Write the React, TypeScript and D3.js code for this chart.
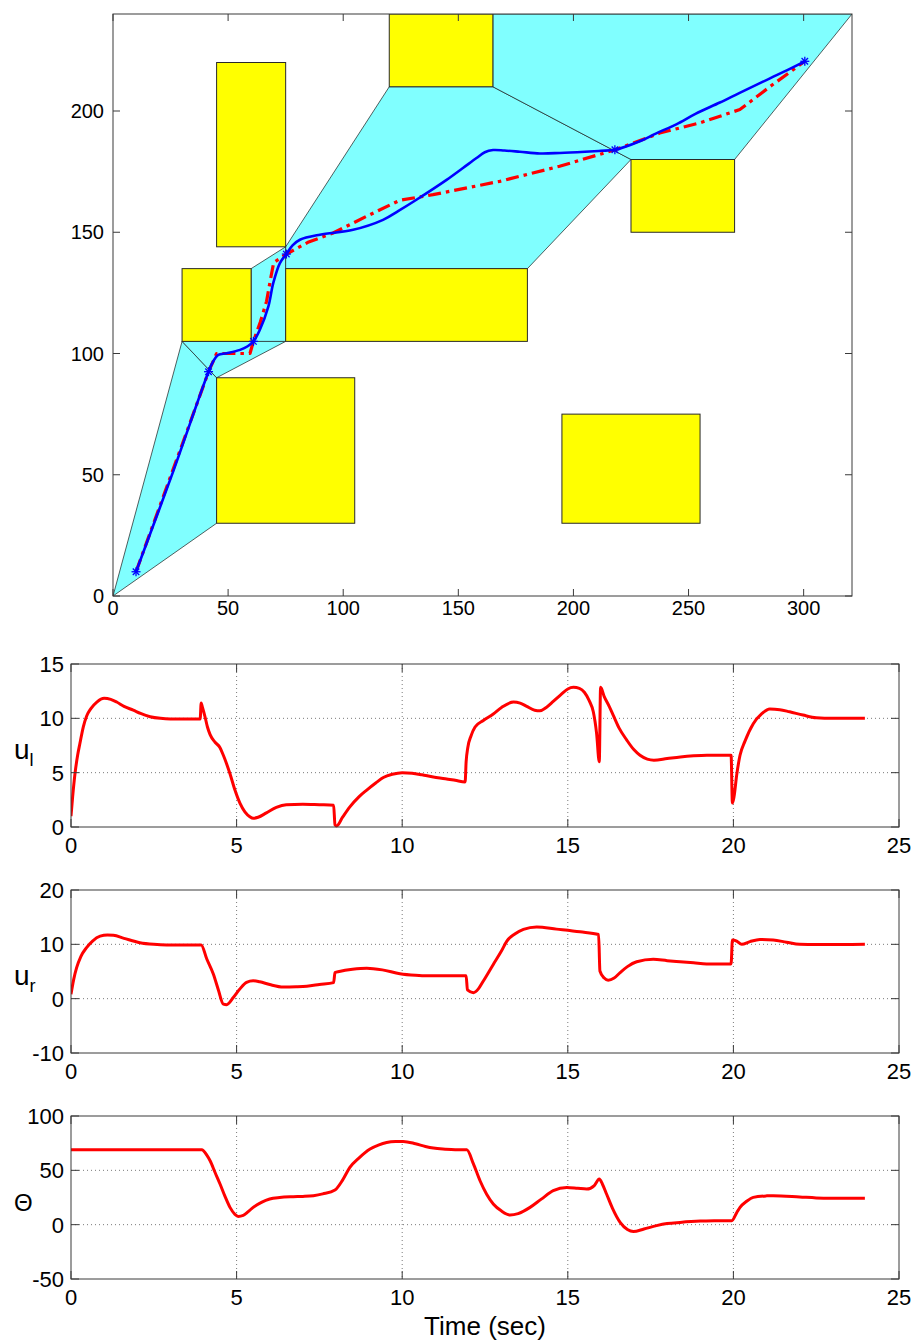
import React, { useEffect, useRef } from "react";
import * as d3 from "d3";

const W = 920;
const H = 1340;
const FONT = "'Liberation Sans', Arial, Helvetica, sans-serif";

// ---------- Workspace (x-y plane) ----------
// Obstacles as [xmin, ymin, xmax, ymax]
const obstacles: number[][] = [
  [45, 144, 75, 220],
  [120, 210, 165, 240],
  [225, 150, 270, 180],
  [30, 105, 60, 135],
  [75, 105, 180, 135],
  [45, 30, 105, 90],
  [195, 30, 255, 75],
];

// Free-space cells of the corridor (convex polygons)
const freeCells: number[][][] = [
  [[0, 0], [45, 30], [45, 90], [30, 105]],
  [[30, 105], [45, 90], [75, 105]],
  [[60, 105], [75, 105], [75, 144], [60, 135]],
  [[75, 135], [180, 135], [225, 180], [165, 210], [120, 210], [75, 144]],
  [[165, 210], [225, 180], [270, 180], [321, 240], [165, 240]],
];

const waypoints: number[][] = [
  [10, 10], [41.5, 92.5], [61, 105], [75.3, 141], [218, 184], [300.5, 220.5],
];

const actualPath: number[][] = [
  [10, 10], [26, 51], [41.5, 92.5], [43.5, 96.7], [45.7, 99.4], [49.4, 100.1],
  [55.2, 101.5], [58.5, 103], [61, 105], [63.8, 109.8], [67.5, 119.4],
  [69.6, 129], [72.5, 137.3], [75.3, 141], [78, 144.6], [81.2, 146.9],
  [89.9, 149], [104.3, 151], [117.3, 155.1], [124, 158.8], [131.8, 163.4],
  [144.9, 171.6], [152, 176.5], [157.9, 180.6], [161.5, 183], [165.1, 183.9],
  [170, 183.7], [176.7, 183.2], [185.4, 182.5], [194.1, 182.7], [205, 183.2],
  [212, 183.6], [218, 184], [228.8, 187.5], [236, 190.8], [244.7, 194.5],
  [253, 198.8], [263.6, 203.5], [272, 207.4], [281, 211.5], [291, 216],
  [300.5, 220.5],
];

const referencePath: number[][] = [
  [10, 10], [41.5, 92.5], [45, 100], [59.5, 100], [61, 105], [64, 113],
  [66.7, 121.5], [68.3, 130], [69.8, 137.5], [75.3, 141], [85, 146],
  [95.6, 149.7], [110, 156.5], [124.6, 163.2], [139, 165.5], [168, 171],
  [194, 177.2], [218, 184], [237.5, 190.9], [254.9, 195.1], [272.3, 200.6],
  [286, 210.5], [300.5, 220.5],
];

const pathXTicks = [0, 50, 100, 150, 200, 250, 300];
const pathYTicks = [0, 50, 100, 150, 200];

// ---------- Time histories ----------
const timeTicks = [0, 5, 10, 15, 20, 25];

const uLeft: number[][] = [
  [0, 1.0], [0.05, 2.8], [0.12, 4.9], [0.2, 6.6], [0.27, 7.7], [0.37, 9.2],
  [0.47, 10.2], [0.6, 10.9], [0.78, 11.5], [1.0, 11.85], [1.2, 11.75],
  [1.38, 11.5], [1.6, 11.1], [1.88, 10.75], [2.1, 10.45], [2.39, 10.15],
  [2.7, 10.0], [3.0, 9.95], [3.5, 9.95], [3.9, 9.95], [3.93, 11.4],
  [3.97, 11.0], [4.05, 10.1], [4.12, 9.2], [4.2, 8.5], [4.35, 7.8],
  [4.5, 7.3], [4.6, 6.6], [4.7, 5.8], [4.8, 4.9], [4.95, 3.4], [5.1, 2.2],
  [5.25, 1.4], [5.4, 0.95], [5.5, 0.8], [5.65, 0.9], [5.9, 1.3], [6.2, 1.8],
  [6.5, 2.05], [7.0, 2.1], [7.5, 2.05], [7.93, 2.0], [7.97, 0.2],
  [8.02, 0.1], [8.2, 0.9], [8.42, 1.85], [8.7, 2.8], [8.93, 3.4],
  [9.2, 4.05], [9.43, 4.55], [9.7, 4.85], [10.0, 5.0], [10.3, 4.95],
  [10.6, 4.8], [10.94, 4.6], [11.3, 4.45], [11.6, 4.3], [11.9, 4.15],
  [11.93, 6.0], [11.98, 7.3], [12.08, 8.4], [12.2, 9.2], [12.45, 9.8],
  [12.75, 10.4], [13.0, 11.0], [13.36, 11.5], [13.56, 11.4], [13.76, 11.1],
  [14.0, 10.75], [14.16, 10.7], [14.35, 11.0], [14.56, 11.55], [14.8, 12.2],
  [15.0, 12.7], [15.17, 12.85], [15.35, 12.75], [15.5, 12.4], [15.65, 11.6],
  [15.77, 10.6], [15.87, 8.6], [15.95, 6.0], [15.99, 12.85], [16.1, 12.0],
  [16.25, 11.1], [16.37, 10.3], [16.55, 9.1], [16.78, 8.0], [17.0, 7.1],
  [17.18, 6.6], [17.4, 6.25], [17.6, 6.15], [18.0, 6.3], [18.4, 6.45],
  [18.8, 6.55], [19.2, 6.6], [19.6, 6.6], [19.93, 6.6], [19.97, 2.2],
  [20.02, 2.8], [20.1, 4.8], [20.2, 6.6], [20.35, 7.9], [20.6, 9.5],
  [20.85, 10.4], [21.1, 10.85], [21.4, 10.8], [21.7, 10.6], [22.1, 10.3],
  [22.5, 10.05], [23.0, 10.0], [23.5, 10.0], [23.97, 10.0],
];

const uRight: number[][] = [
  [0, 0.8], [0.08, 3.5], [0.17, 5.7], [0.3, 7.8], [0.47, 9.4], [0.65, 10.6],
  [0.88, 11.5], [1.1, 11.7], [1.28, 11.65], [1.6, 11.1], [2.08, 10.3],
  [2.5, 10.0], [2.89, 9.9], [3.4, 9.9], [3.93, 9.9], [4.1, 7.3], [4.3, 4.5],
  [4.45, 1.6], [4.6, -1.0], [4.7, -1.1], [4.9, 0.2], [5.1, 1.8], [5.3, 3.0],
  [5.5, 3.3], [5.7, 3.1], [6.0, 2.6], [6.41, 2.15], [6.8, 2.2], [7.12, 2.3],
  [7.5, 2.6], [7.93, 2.95], [7.97, 4.8], [8.1, 5.0], [8.5, 5.4], [8.93, 5.6],
  [9.4, 5.3], [9.93, 4.6], [10.4, 4.3], [10.74, 4.2], [11.3, 4.2],
  [11.93, 4.2], [11.97, 1.6], [12.15, 1.1], [12.3, 1.8], [12.45, 3.25],
  [12.75, 6.3], [13.0, 8.8], [13.16, 10.6], [13.4, 11.9], [13.66, 12.75],
  [14.06, 13.2], [14.66, 12.8], [15.37, 12.3], [15.93, 11.8], [15.97, 5.1],
  [16.1, 3.8], [16.22, 3.4], [16.4, 3.8], [16.58, 4.8], [16.8, 5.9],
  [17.08, 6.8], [17.58, 7.25], [18.0, 7.0], [18.39, 6.8], [18.8, 6.6],
  [19.19, 6.4], [19.93, 6.4], [19.97, 10.8], [20.1, 10.6], [20.25, 10.0],
  [20.5, 10.5], [20.8, 10.9], [21.2, 10.8], [21.6, 10.4], [22.0, 10.0],
  [22.5, 9.95], [23.0, 9.95], [23.97, 10.0],
];

const theta: number[][] = [
  [0, 69], [1, 69], [2, 69], [3, 69], [3.95, 69], [4.1, 64], [4.2, 58.8],
  [4.35, 48], [4.5, 37.4], [4.65, 26], [4.8, 15.9], [4.95, 9.5], [5.05, 7.6],
  [5.2, 8.5], [5.35, 12], [5.5, 15.9], [5.75, 20.5], [6.0, 23.6], [6.3, 25],
  [6.71, 25.7], [7.0, 26], [7.32, 26.7], [7.6, 28.3], [7.97, 31.9],
  [8.2, 41], [8.42, 52.7], [8.7, 61.5], [9.03, 69.6], [9.3, 73.5],
  [9.53, 75.6], [9.8, 76.5], [10.03, 76.6], [10.4, 74.5], [10.7, 72],
  [10.94, 70.5], [11.3, 69.5], [11.6, 69], [11.95, 68.9], [12.15, 56],
  [12.35, 40.4], [12.55, 28], [12.75, 19], [13.0, 12.5], [13.26, 8.9],
  [13.5, 10.2], [13.86, 15.9], [14.2, 23.5], [14.56, 31.25], [14.97, 34.3],
  [15.3, 33.5], [15.57, 32.8], [15.8, 36], [15.95, 42], [16.05, 37],
  [16.17, 28.2], [16.35, 15], [16.58, 2.1], [16.8, -4.5], [16.98, -6.4],
  [17.3, -4], [17.68, -0.9], [18.0, 1], [18.39, 2.1], [19.0, 3.3],
  [19.5, 3.6], [19.95, 3.7], [20.1, 11], [20.2, 15.9], [20.4, 21.5],
  [20.6, 25.1], [21.0, 26.5], [21.2, 26.7], [22.0, 25.5], [22.5, 24.6],
  [23.0, 24.3], [23.97, 24.2],
];

const uLeftTicks = [0, 5, 10, 15];
const uRightTicks = [-10, 0, 10, 20];
const thetaTicks = [-50, 0, 50, 100];

type Sel = d3.Selection<SVGGElement, unknown, null, undefined>;

function drawFrame(
  g: Sel,
  x: d3.ScaleLinear<number, number>,
  y: d3.ScaleLinear<number, number>,
  xTicks: number[],
  yTicks: number[],
  tickLen: number,
  fontSize: number,
  xLabelGap: number,
  yLabelGap: number
) {
  const [x0, x1] = x.range();
  const [y0, y1] = y.range();
  const axisColor = "#3a3a3a";
  // Inward ticks on all four sides
  xTicks.forEach((t) => {
    const px = x(t);
    g.append("line").attr("x1", px).attr("x2", px).attr("y1", y0).attr("y2", y0 - tickLen)
      .attr("stroke", axisColor).attr("stroke-width", 1);
    g.append("line").attr("x1", px).attr("x2", px).attr("y1", y1).attr("y2", y1 + tickLen)
      .attr("stroke", axisColor).attr("stroke-width", 1);
    g.append("text").attr("x", px).attr("y", y0 + xLabelGap)
      .attr("text-anchor", "middle").attr("font-size", fontSize)
      .attr("font-family", FONT).attr("fill", "#000").text(String(t));
  });
  yTicks.forEach((t) => {
    const py = y(t);
    g.append("line").attr("x1", x0).attr("x2", x0 + tickLen).attr("y1", py).attr("y2", py)
      .attr("stroke", axisColor).attr("stroke-width", 1);
    g.append("line").attr("x1", x1).attr("x2", x1 - tickLen).attr("y1", py).attr("y2", py)
      .attr("stroke", axisColor).attr("stroke-width", 1);
    g.append("text").attr("x", x0 - yLabelGap).attr("y", py)
      .attr("dy", "0.36em")
      .attr("text-anchor", "end").attr("font-size", fontSize)
      .attr("font-family", FONT).attr("fill", "#000").text(String(t));
  });
  g.append("rect").attr("x", x0).attr("y", y1).attr("width", x1 - x0).attr("height", y0 - y1)
    .attr("fill", "none").attr("stroke", axisColor).attr("stroke-width", 1);
}

function drawWorkspace(svg: d3.Selection<SVGSVGElement, unknown, null, undefined>) {
  const x = d3.scaleLinear().domain([0, 321]).range([113, 852]);
  const y = d3.scaleLinear().domain([0, 240]).range([596, 14]);
  const g = svg.append("g");

  g.append("clipPath").attr("id", "ws-clip").append("rect")
    .attr("x", 113).attr("y", 14).attr("width", 739).attr("height", 582);
  const plot = g.append("g").attr("clip-path", "url(#ws-clip)");

  const poly = (pts: number[][]) => pts.map((p) => `${x(p[0])},${y(p[1])}`).join(" ");

  plot.selectAll("polygon.cell").data(freeCells).enter().append("polygon")
    .attr("class", "cell").attr("points", (d) => poly(d))
    .attr("fill", "#80ffff").attr("stroke", "#1a1a1a").attr("stroke-width", 0.7)
    .attr("stroke-linejoin", "round");

  plot.selectAll("rect.obs").data(obstacles).enter().append("rect")
    .attr("class", "obs")
    .attr("x", (d) => x(d[0])).attr("y", (d) => y(d[3]))
    .attr("width", (d) => x(d[2]) - x(d[0])).attr("height", (d) => y(d[1]) - y(d[3]))
    .attr("fill", "#ffff00").attr("stroke", "#2a2a2a").attr("stroke-width", 1);

  const line = d3.line<number[]>().x((d) => x(d[0])).y((d) => y(d[1]));

  plot.append("path").attr("d", line(referencePath) as string)
    .attr("fill", "none").attr("stroke", "#ff0000").attr("stroke-width", 3.2)
    .attr("stroke-dasharray", "13,5,3.5,5").attr("stroke-linejoin", "round");

  const smooth = d3.line<number[]>().x((d) => x(d[0])).y((d) => y(d[1]))
    .curve(d3.curveCatmullRom.alpha(0.5));
  plot.append("path").attr("d", smooth(actualPath) as string)
    .attr("fill", "none").attr("stroke", "#0000ff").attr("stroke-width", 2.6)
    .attr("stroke-linejoin", "round");

  // Asterisk markers at the waypoints
  const r = 4.5;
  waypoints.forEach((p) => {
    const cx = x(p[0]);
    const cy = y(p[1]);
    const m = plot.append("g").attr("stroke", "#0000ff").attr("stroke-width", 1.3);
    m.append("line").attr("x1", cx - r).attr("x2", cx + r).attr("y1", cy).attr("y2", cy);
    m.append("line").attr("x1", cx).attr("x2", cx).attr("y1", cy - r).attr("y2", cy + r);
    const k = r * 0.72;
    m.append("line").attr("x1", cx - k).attr("x2", cx + k).attr("y1", cy - k).attr("y2", cy + k);
    m.append("line").attr("x1", cx - k).attr("x2", cx + k).attr("y1", cy + k).attr("y2", cy - k);
  });

  drawFrame(g, x, y, pathXTicks, pathYTicks, 7, 20, 19, 9);
}

function drawSeries(
  svg: d3.Selection<SVGSVGElement, unknown, null, undefined>,
  top: number,
  data: number[][],
  yDomain: [number, number],
  yTicks: number[],
  label: string,
  sub: string | null,
  labelSize: number,
  id: string
) {
  const x = d3.scaleLinear().domain([0, 25]).range([71, 899]);
  const y = d3.scaleLinear().domain(yDomain).range([top + 163, top]);
  const g = svg.append("g");

  // Dotted grid at interior ticks
  timeTicks.slice(1, -1).forEach((t) => {
    g.append("line").attr("x1", x(t)).attr("x2", x(t)).attr("y1", top).attr("y2", top + 163)
      .attr("stroke", "#7a7a7a").attr("stroke-width", 1).attr("stroke-dasharray", "1,3");
  });
  yTicks.slice(1, -1).forEach((t) => {
    g.append("line").attr("x1", 71).attr("x2", 899).attr("y1", y(t)).attr("y2", y(t))
      .attr("stroke", "#7a7a7a").attr("stroke-width", 1).attr("stroke-dasharray", "1,3");
  });

  g.append("clipPath").attr("id", id).append("rect")
    .attr("x", 71).attr("y", top - 2).attr("width", 828).attr("height", 167);

  const line = d3.line<number[]>().x((d) => x(d[0])).y((d) => y(d[1]))
    .curve(d3.curveMonotoneX);
  g.append("path").attr("d", line(data) as string).attr("clip-path", `url(#${id})`)
    .attr("fill", "none").attr("stroke", "#ff0000").attr("stroke-width", 3)
    .attr("stroke-linejoin", "round");

  drawFrame(g, x, y, timeTicks, yTicks, 8, 22, 26, 7);

  const t = g.append("text").attr("x", 14).attr("y", top + 95)
    .attr("font-family", FONT).attr("font-size", labelSize).attr("fill", "#000");
  t.append("tspan").text(label);
  if (sub) {
    t.append("tspan").attr("font-size", labelSize * 0.65).attr("dy", 7).text(sub);
  }
}

export default function App() {
  const ref = useRef<SVGSVGElement | null>(null);

  useEffect(() => {
    if (!ref.current) return;
    const svg = d3.select(ref.current);
    svg.selectAll("*").remove();
    svg.append("rect").attr("width", W).attr("height", H).attr("fill", "#fff");

    drawWorkspace(svg);
    drawSeries(svg, 664, uLeft, [0, 15], uLeftTicks, "u", "l", 28, "clip-ul");
    drawSeries(svg, 890, uRight, [-10, 20], uRightTicks, "u", "r", 28, "clip-ur");
    drawSeries(svg, 1116, theta, [-50, 100], thetaTicks, "Θ", null, 24, "clip-th");

    svg.append("text").attr("x", 485).attr("y", 1335)
      .attr("text-anchor", "middle").attr("font-family", FONT)
      .attr("font-size", 26).attr("fill", "#000").text("Time (sec)");
  }, []);

  return (
    <svg
      ref={ref}
      width={W}
      height={H}
      style={{ position: "absolute", left: 0, top: 0, display: "block" }}
    />
  );
}
